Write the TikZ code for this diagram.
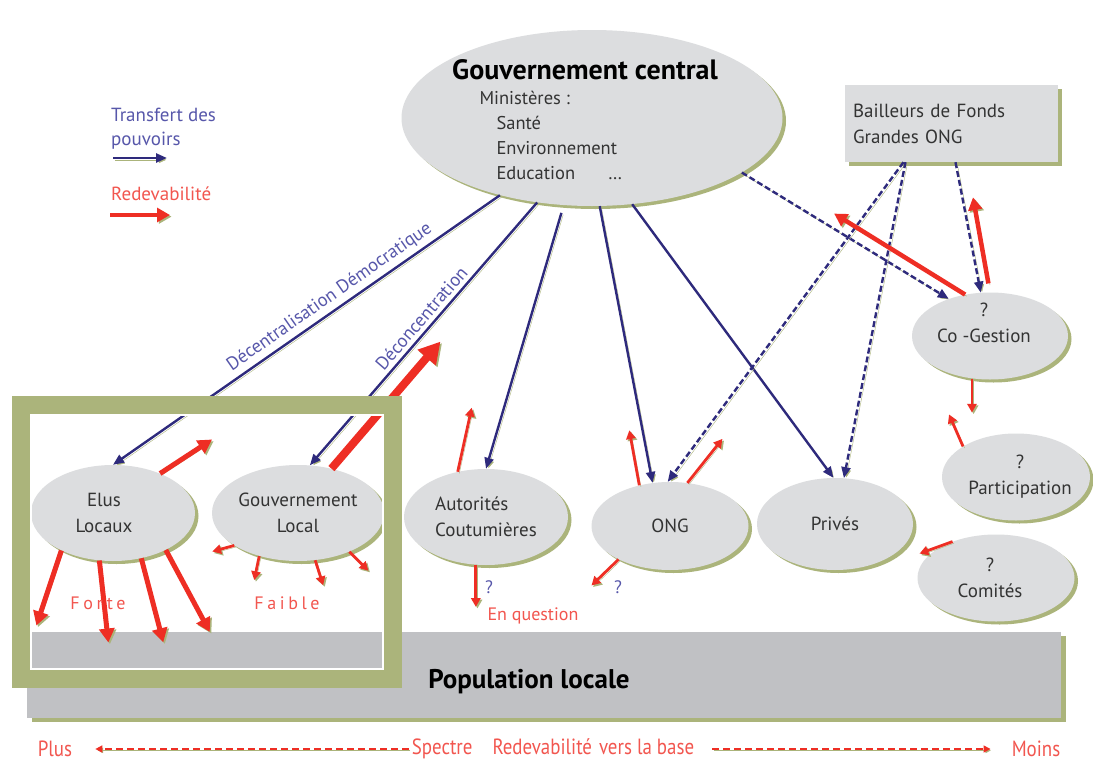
\documentclass[tikz,border=0pt]{standalone}
\usepackage{fontspec}
\setmainfont{PT Sans}
\newfontfamily\narrowfont[FakeStretch=0.86]{PT Sans}
\usetikzlibrary{arrows.meta,shapes.geometric,shadows}
\definecolor{navy}{HTML}{2E2A7C}
\definecolor{rred}{HTML}{EE2E24}
\definecolor{olv}{HTML}{ABB47B}
\definecolor{bubgray}{HTML}{DCDDDF}
\definecolor{popgray}{HTML}{C0C1C4}
\definecolor{ink}{HTML}{333333}
\definecolor{lblue}{HTML}{5757AA}
\definecolor{lred}{HTML}{F2564F}
\begin{document}
\begin{tikzpicture}[x=1pt,y=-1pt,
  bubble/.style={ellipse,fill=bubgray,inner sep=0pt,
    drop shadow={shadow xshift=3.5pt,shadow yshift=-3pt,fill=olv,opacity=1}},
  inside/.style={align=center,text=ink,font=\fontsize{19}{26}\selectfont},
  boxn/.style={rectangle,fill=bubgray,minimum width=213pt,minimum height=77pt,
    text width=197pt,align=left,inner sep=0pt,text=ink,font=\fontsize{19}{26}\selectfont,
    drop shadow={shadow xshift=4pt,shadow yshift=-4pt,fill=olv,opacity=1}},
  popbar/.style={rectangle,fill=popgray,minimum width=1034pt,minimum height=86pt,
    inner sep=0pt,drop shadow={shadow xshift=5pt,shadow yshift=-4pt,fill=olv,opacity=1}},
  legend/.style={align=left,inner sep=0pt,font=\fontsize{19}{24}\selectfont},
  slab/.style={text=lblue,font=\fontsize{18.5}{22}\selectfont,inner sep=4pt},
  redtxt/.style={text=lred,font=\fontsize{18}{20}\selectfont},
  lowtxt/.style={text=lred,inner sep=0pt,font=\narrowfont\fontsize{22}{24}\selectfont},
  trans/.style={draw=navy,line width=2.4pt,-{Triangle[length=11pt,width=9pt]},
    preaction={draw=olv,transform canvas={xshift=1.8pt,yshift=-1.8pt}}},
  transd/.style={trans,dash pattern=on 6pt off 3pt},
  redev/.style={draw=rred,line width=#1,-{Triangle[length=2pt 2.4,width=2pt 2.6]},
    preaction={draw=olv,transform canvas={xshift=1.6pt,yshift=-1.6pt}}},
  redev/.default=2.8pt,
  spectre/.style={draw=rred,line width=1.5pt,dash pattern=on 7pt off 4pt,
    -{Triangle[length=7pt,width=7pt]},
    preaction={draw=olv,transform canvas={xshift=1.4pt,yshift=-1.4pt}}}
]
\useasboundingbox[fill=white] (0,0) rectangle (1093,763);

% legend
\node[legend,text=lblue,anchor=west] (ltr) at (111,129) {Transfert des\\pouvoirs};
\coordinate (lg1) at (113,158);
\draw[trans] (lg1) -- ++(54,0);
\node[legend,text=lred,anchor=west] (lrd) at (111,194) {Redevabilité};
\coordinate (lg2) at (110,215);
\draw[redev=4.5pt] (lg2) -- ++(60,0);

% population
\node[popbar] (pop) at (544,675) {};
\node[font=\bfseries\fontsize{27}{30}\selectfont] (popt) at (529,682) {Population locale};

% central government and donors
\node[bubble,minimum width=381pt,minimum height=176pt] (cg) at (592,118) {};
\node[font=\bfseries\fontsize{28}{30}\selectfont] (cgt) at (585,70) {Gouvernement central};
\node[inside,align=left,anchor=north west,font=\fontsize{18.5}{25}\selectfont] (mins) at (476,88)
  {Ministères :\\\hspace*{17pt}Santé\\\hspace*{17pt}Environnement\\\hspace*{17pt}Education\hspace*{33pt}…};
\node[boxn] (bf) at (951.5,123.5) {Bailleurs de Fonds\\Grandes ONG};

% local actors
\node[bubble,minimum width=164pt,minimum height=96pt,
  label={[inside,xshift=-9pt]center:Elus\\Locaux}] (el) at (113,513) {};
\node[bubble,minimum width=172pt,minimum height=96pt,
  label={[inside]center:Gouvernement\\Local}] (gl) at (298,513) {};
\node[bubble,minimum width=164pt,minimum height=96pt,
  label={[inside,align=left]center:Autorités\\Coutumières}] (ac) at (486,517) {};
\node[bubble,minimum width=157pt,minimum height=88pt,
  label={[inside]center:ONG}] (ong) at (670,526) {};
\node[bubble,minimum width=156pt,minimum height=92pt,
  label={[inside]center:Privés}] (pr) at (835,524) {};
\node[bubble,minimum width=156pt,minimum height=87pt,
  label={[inside,xshift=-6pt,yshift=13pt]center:?\\Co -Gestion}] (cog) at (990,336) {};
\node[bubble,minimum width=148pt,minimum height=87pt,
  label={[inside,xshift=4pt]center:?\\Participation}] (part) at (1016,477) {};
\node[bubble,minimum width=157pt,minimum height=87pt,
  label={[inside,xshift=-6pt]center:?\\Comités}] (com) at (996,578) {};

% transfer of powers
\draw[trans] (cg.220) -- (el.north)
  node[slab,pos=0.42,sloped,above] {Décentralisation Démocratique};
\draw[trans] (cg.237) -- (gl.76)
  node[slab,pos=0.47,sloped,above] {Déconcentration};
\draw[trans,shorten <=8pt] (cg.252) -- (ac.north);
\draw[trans] (cg.275) -- (ong.112);
\draw[trans] (cg.295) -- (pr.92);
\draw[transd] (cg.340) -- (cog.138);
\draw[transd] ([xshift=-48pt]bf.south) -- (ong.93);
\draw[transd] ([xshift=-46pt]bf.south) -- (pr.79);
\draw[transd] ([xshift=4pt]bf.south) -- (cog.102);

% accountability
\draw[redev=5pt] (el.40) -- ++(52,-34);
\draw[redev=5pt] (el.216) -- ++(-25,75);
\draw[redev=5pt] (el.254) -- ++(9,82);
\draw[redev=5pt] (el.302) -- ++(22,84);
\draw[redev=5pt] (el.325) -- ++(44,82);
\draw[redev=8pt] (gl.53) -- ++(109,-127);
\draw[redev] (gl.207) -- ++(-22,6);
\draw[redev] (gl.228) -- ++(-5,24);
\draw[redev] (gl.290) -- ++(8,25);
\draw[redev] (gl.323) -- ++(19,19);
\draw[redev] (ac.122) -- ++(14,-64);
\draw[redev] (ac.258) -- ++(0,42);
\draw[redev] (ong.127) -- ++(-10,-55);
\draw[redev] (ong.68) -- ++(35,-44);
\draw[redev] (ong.213) -- ++(-27,26);
\draw[redev=4.5pt] (cog.121) -- ++(-131,-81);
\draw[redev=4.5pt,shorten <=9pt] (cog.north) -- ++(-17,-95);
\draw[redev] (cog.247) -- ++(0,34);
\draw[redev] (part.150) -- ++(-14,-32);
\draw[redev] (com.140) -- ++(-33,12);

% frame round the decentralised bodies
\draw[olv,line width=18pt] (21,405) rectangle (392.5,679);
\draw[white,line width=2pt] (31,415) rectangle (382.5,669);

\node[redtxt,font=\addfontfeature{LetterSpace=20}\fontsize{18}{20}\selectfont] (forte) at (98,603) {Forte};
\node[redtxt,font=\addfontfeature{LetterSpace=20}\fontsize{18}{20}\selectfont] (faible) at (287,603) {Faible};
\node[text=lblue,font=\fontsize{18}{20}\selectfont] (q1) at (489,587) {?};
\node[text=lblue,font=\fontsize{18}{20}\selectfont] (q2) at (618,587) {?};
\node[redtxt] (enq) at (533,616) {En question};

% spectrum
\node[lowtxt] (plus) at (55,749) {Plus};
\node[lowtxt] (spec) at (553,749) {Spectre\hspace{20pt}Redevabilité\hspace{7pt}vers la base};
\node[lowtxt] (moins) at (1036,749) {Moins};
\draw[spectre,shorten <=3pt,shorten >=23pt] (spec.west) -- (plus.east);
\draw[spectre,shorten <=18pt,shorten >=21pt] (spec.east) -- (moins.west);
\end{tikzpicture}
\end{document}
